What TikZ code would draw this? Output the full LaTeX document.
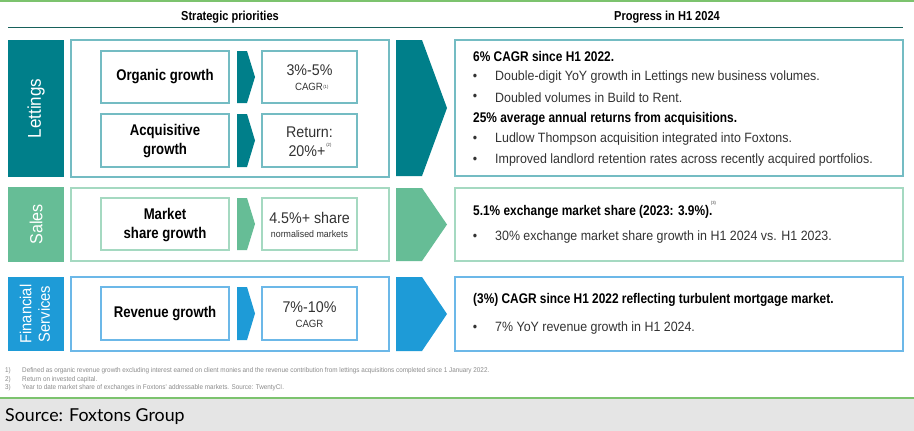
\documentclass[tikz,border=0pt]{standalone}
\usepackage{fontspec}
\setmainfont{Liberation Sans}
\newfontfamily\rgf{Liberation Sans}[FakeStretch=0.92]
\newfontfamily\bdf{Liberation Sans}[FakeStretch=0.85]
\newfontfamily\srcf{Lato}
\newcommand\fsz[2]{\fontsize{#1}{#2}\selectfont}
\definecolor{lteal}{HTML}{007F8A}
\definecolor{lbord}{HTML}{74BCC3}
\definecolor{sgreen}{HTML}{66BD96}
\definecolor{sbord}{HTML}{A5D9C1}
\definecolor{fblue}{HTML}{1E9BD7}
\definecolor{fbord}{HTML}{6CB8E8}
\definecolor{topgreen}{HTML}{7CC36E}
\definecolor{rule}{HTML}{17615B}
\definecolor{band}{HTML}{E5E5E5}
\definecolor{txtgray}{HTML}{333333}
\definecolor{notegray}{HTML}{8C8C8C}
\tikzset{
  boxnode/.style={draw=#1, line width=1.1pt, inner sep=0pt, fill=white},
  sidelab/.style={text=white, rotate=90, inner sep=0pt, align=center},
  lefttxt/.style={inner sep=0pt, align=center, font=\bdf\bfseries\fsz{15.5}{19}},
  valtxt/.style={inner sep=0pt, align=center, text=txtgray, font=\rgf\fsz{15.5}{19}},
  smalltxt/.style={inner sep=0pt, text=txtgray, font=\rgf\fsz{10.5}{12}},
  headtxt/.style={inner sep=0pt, anchor=west, font=\bdf\bfseries\fsz{14}{16}},
  bultxt/.style={inner sep=0pt, anchor=west, text=txtgray, font=\rgf\fsz{13.5}{16}},
  dot/.style={inner sep=0pt, text=txtgray, font=\rgf\fsz{13.5}{16}},
  notetxt/.style={inner sep=0pt, anchor=west, text=notegray, font=\rgf\fsz{6.9}{8}},
  suptxt/.style={inner sep=0pt, text=txtgray, font=\rgf\fsz{4.5}{5}}
}
\begin{document}
\begin{tikzpicture}[x=1pt,y=-1pt]
\useasboundingbox (0,0) rectangle (914,431);
\fill[white] (0,0) rectangle (914,431);
% top lines
\draw[topgreen, line width=1.2pt] (0,1) -- (914,1);
\draw[rule, line width=1.5pt] (8,27.5) -- (903,27.5);
\node (t1) [inner sep=0pt, font=\bdf\bfseries\fsz{13}{15}] at (230,17) {Strategic priorities};
\node (t2) [inner sep=0pt, font=\bdf\bfseries\fsz{13}{15}] at (667,17) {Progress in H1 2024};

% ===== Lettings =====
\fill[lteal] (8,40) rectangle (64,177);
\node (lside) [sidelab, font=\rgf\fsz{18.5}{20}] at (36,108.5) {Lettings};
\node (lout) [boxnode=lbord, minimum width=318pt, minimum height=137pt] at (230,108.5) {};
\node (lorg) [boxnode=lbord, minimum width=128pt, minimum height=52pt] at (165,77) {};
\node [lefttxt] at (165,77) {Organic growth};
\fill[lteal] (237,51) -- (247,51) -- (255,77) -- (247,103) -- (237,103) -- cycle;
\node (lorgv) [boxnode=lbord, minimum width=95pt, minimum height=52pt] at (309.5,77) {};
\node (v1) [valtxt] at (309.5,70) {3\%-5\%};
\node (v1s) [smalltxt] at (309,87) {CAGR};
\node [suptxt, anchor=west] at (v1s.east) {(1)};
\node (lacq) [boxnode=lbord, minimum width=128pt, minimum height=53pt] at (165,140.5) {};
\node [lefttxt] at (165,141) {Acquisitive\\growth};
\fill[lteal] (237,114) -- (247,114) -- (255,140.5) -- (247,167) -- (237,167) -- cycle;
\node (lacqv) [boxnode=lbord, minimum width=95pt, minimum height=53pt] at (309.5,140.5) {};
\node (v2) [valtxt] at (309.5,132) {Return:};
\node (v2b) [valtxt] at (307,151) {20\%+};
\node [suptxt, anchor=south west] at ([xshift=0.5pt,yshift=-2pt]v2b.north east) {(2)};
\fill[lteal] (396,40) -- (422,40) -- (447,108) -- (422,176) -- (396,176) -- cycle;
\node (lright) [boxnode=lbord, minimum width=448pt, minimum height=136pt] at (679,108) {};
\node (lh1) [headtxt] at (473,56) {6\% CAGR since H1 2022.};
\node [dot] at (475,77) {•};
\node (lb1) [bultxt] at (495,77) {Double-digit YoY growth in Lettings new business volumes.};
\node [dot] at (475,97.5) {•};
\node (lb2) [bultxt] at (495,97.5) {Doubled volumes in Build to Rent.};
\node (lh2) [headtxt] at (473,118.5) {25\% average annual returns from acquisitions.};
\node [dot] at (475,139) {•};
\node (lb3) [bultxt] at (495,139) {Ludlow Thompson acquisition integrated into Foxtons.};
\node [dot] at (475,160) {•};
\node (lb4) [bultxt] at (495,160) {Improved landlord retention rates across recently acquired portfolios.};

% ===== Sales =====
\fill[sgreen] (8,187) rectangle (64,262);
\node (sside) [sidelab, font=\rgf\fsz{17.5}{20}] at (36,224.5) {Sales};
\node (sout) [boxnode=sbord, minimum width=318pt, minimum height=73pt] at (230,224.5) {};
\node (smkt) [boxnode=sbord, minimum width=128pt, minimum height=52pt] at (165,224) {};
\node [lefttxt] at (165,225) {Market\\share growth};
\fill[sgreen] (237,198) -- (247,198) -- (255,224) -- (247,250) -- (237,250) -- cycle;
\node (smktv) [boxnode=sbord, minimum width=95pt, minimum height=52pt] at (309.5,224) {};
\node (v3) [valtxt] at (309.5,218) {4.5\%+ share};
\node (v3s) [smalltxt, font=\rgf\fsz{9.6}{11}] at (309.5,234) {normalised markets};
\fill[sgreen] (396,188) -- (422,188) -- (447,224.5) -- (422,261) -- (396,261) -- cycle;
\node (sright) [boxnode=sbord, minimum width=448pt, minimum height=73pt] at (679,224.5) {};
\node (sh1) [headtxt] at (473,212) {5.1\% exchange market share (2023: 3.9\%).};
\node [suptxt] at (713.5,203) {(3)};
\node [dot] at (475,237) {•};
\node (sb1) [bultxt] at (495,237) {30\% exchange market share growth in H1 2024 vs. H1 2023.};

% ===== Financial Services =====
\fill[fblue] (8,277) rectangle (64,351);
\node (fside) [sidelab, font=\rgf\fsz{16}{18.5}] at (35,314) {Financial\\Services};
\node (fout) [boxnode=fbord, minimum width=318pt, minimum height=74pt] at (230,314) {};
\node (frev) [boxnode=fbord, minimum width=128pt, minimum height=53pt] at (165,313.5) {};
\node [lefttxt] at (165,313.5) {Revenue growth};
\fill[fblue] (237,287) -- (247,287) -- (255,313.5) -- (247,340) -- (237,340) -- cycle;
\node (frevv) [boxnode=fbord, minimum width=95pt, minimum height=53pt] at (309.5,313.5) {};
\node (v4) [valtxt] at (309.5,307) {7\%-10\%};
\node (v4s) [smalltxt] at (309.5,323.5) {CAGR};
\fill[fblue] (396,277) -- (422,277) -- (447,314) -- (422,351) -- (396,351) -- cycle;
\node (fright) [boxnode=fbord, minimum width=448pt, minimum height=74pt] at (679,314) {};
\node (fh1) [headtxt] at (473,300) {(3\%) CAGR since H1 2022 reflecting turbulent mortgage market.};
\node [dot] at (475,328) {•};
\node (fb1) [bultxt] at (495,328) {7\% YoY revenue growth in H1 2024.};

% ===== Footnotes =====
\node (n1a) [notetxt] at (5,371) {1)};
\node (n1) [notetxt] at (22,371) {Defined as organic revenue growth excluding interest earned on client monies and the revenue contribution from lettings acquisitions completed since 1 January 2022.};
\node (n2a) [notetxt] at (5,379.5) {2)};
\node (n2) [notetxt] at (22,379.5) {Return on invested capital.};
\node (n3a) [notetxt] at (5,388) {3)};
\node (n3) [notetxt] at (22,388) {Year to date market share of exchanges in Foxtons' addressable markets. Source: TwentyCI.};

% ===== Source band =====
\fill[band] (0,398) rectangle (914,431);
\draw[topgreen, line width=1.2pt] (0,398) -- (914,398);
\node (src) [inner sep=0pt, anchor=west, font=\srcf\fsz{17.8}{21}] at (5,416.5) {Source: Foxtons Group};
\end{tikzpicture}
\end{document}
